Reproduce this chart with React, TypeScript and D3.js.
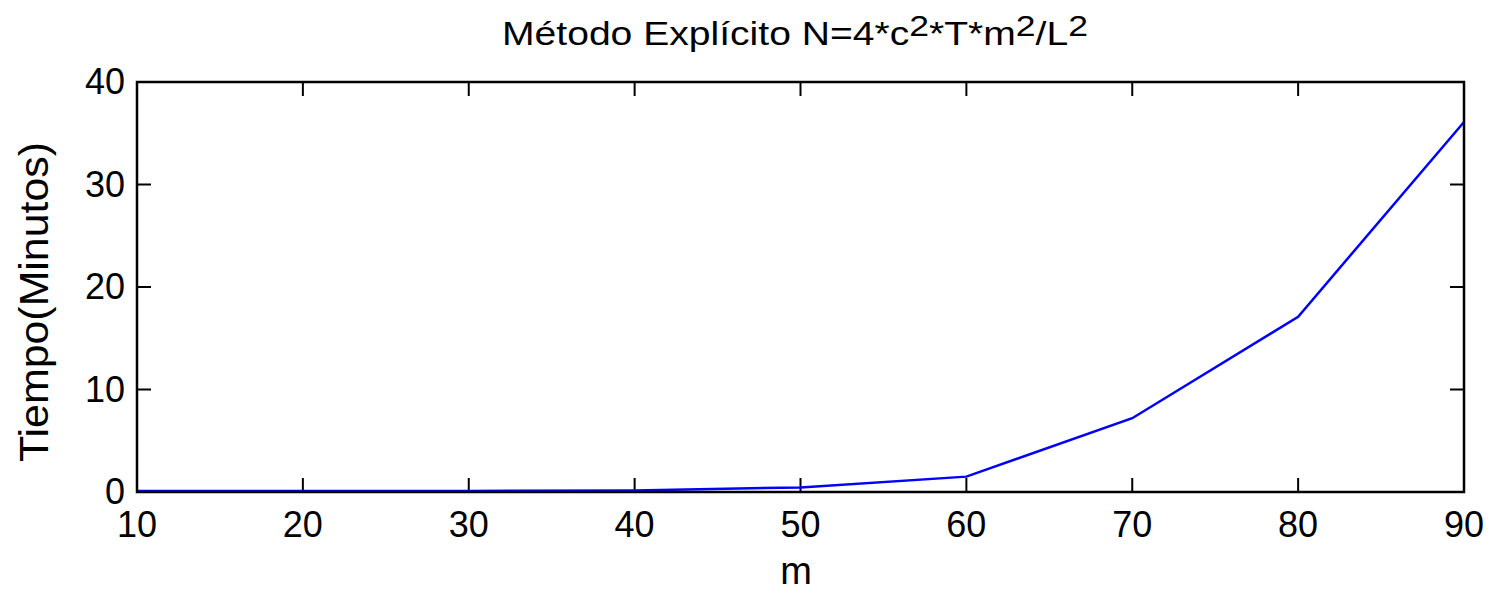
import React from "react";
import * as d3 from "d3";

// m values and run time in minutes
const mValues = [10, 20, 30, 40, 50, 60, 70, 80, 90];
const tiempo = [0.1, 0.1, 0.1, 0.15, 0.45, 1.5, 7.2, 17.1, 36.1];
const xTicks = [10, 20, 30, 40, 50, 60, 70, 80, 90];
const yTicks = [0, 10, 20, 30, 40];

const width = 1491;
const height = 596;
const margin = { top: 82, right: 27, bottom: 104, left: 137 };
const tickLen = 14;
const font = "'Liberation Sans', Arial, sans-serif";

export default function App() {
  const x = d3.scaleLinear().domain([10, 90]).range([margin.left, width - margin.right]);
  const y = d3.scaleLinear().domain([0, 40]).range([height - margin.bottom, margin.top]);

  const line = d3.line<number>()
    .x((d, i) => x(mValues[i]))
    .y(d => y(d));

  const x0 = x.range()[0], x1 = x.range()[1];
  const y0 = y.range()[0], y1 = y.range()[1];

  return (
    <svg width={width} height={height} style={{ position: "absolute", left: 0, top: 0, background: "#fff" }}>
      <rect x={0} y={0} width={width} height={height} fill="#fff" />
      {/* ticks, inward on all four sides */}
      <g stroke="#000" strokeWidth={2}>
        {xTicks.map(t => (
          <g key={"x" + t}>
            <line x1={x(t)} x2={x(t)} y1={y0} y2={y0 - tickLen} />
            <line x1={x(t)} x2={x(t)} y1={y1} y2={y1 + tickLen} />
          </g>
        ))}
        {yTicks.map(t => (
          <g key={"y" + t}>
            <line x1={x0} x2={x0 + tickLen} y1={y(t)} y2={y(t)} />
            <line x1={x1} x2={x1 - tickLen} y1={y(t)} y2={y(t)} />
          </g>
        ))}
      </g>
      <path d={line(tiempo) || ""} fill="none" stroke="#0000ff" strokeWidth={2.5} />
      <rect x={x0} y={y1} width={x1 - x0} height={y0 - y1} fill="none" stroke="#000" strokeWidth={2.5} />
      {/* tick labels */}
      <g fontFamily={font} fontSize={36} fill="#000">
        {xTicks.map(t => (
          <text key={"xl" + t} x={x(t)} y={y0 + 45} textAnchor="middle">{t}</text>
        ))}
        {yTicks.map(t => (
          <text key={"yl" + t} x={x0 - 12} y={y(t) + 12} textAnchor="end">{t}</text>
        ))}
      </g>
      <text x={796} y={584} textAnchor="middle" fontFamily={font} fontSize={38}>m</text>
      <text
        transform={`translate(${48}, ${302}) rotate(-90)`}
        textAnchor="middle"
        fontFamily={font}
        fontSize={40}
        textLength={320}
        lengthAdjust="spacingAndGlyphs"
      >Tiempo(Minutos)</text>
      <text x={502} y={45} fontFamily={font} fontSize={33} textLength={586} lengthAdjust="spacingAndGlyphs">
        Método Explícito N=4*c<tspan dy={-9} fontSize={30}>2</tspan>
        <tspan dy={9}>*T*m</tspan><tspan dy={-9} fontSize={30}>2</tspan>
        <tspan dy={9}>/L</tspan><tspan dy={-9} fontSize={30}>2</tspan>
      </text>
    </svg>
  );
}
